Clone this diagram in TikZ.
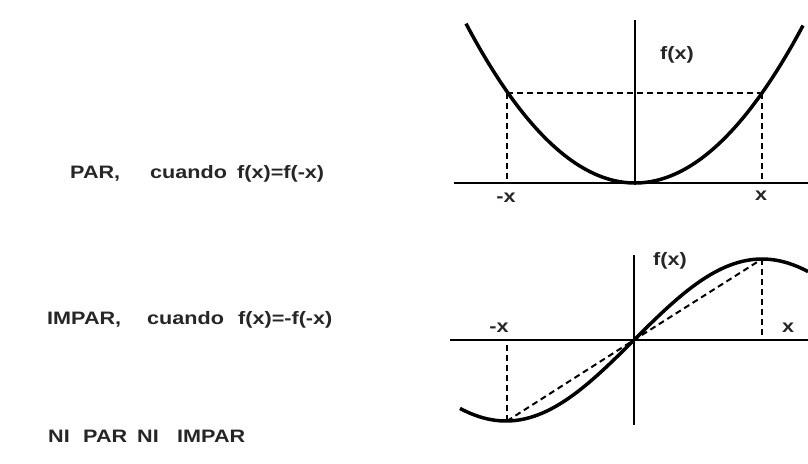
\documentclass[tikz,border=0pt]{standalone}
\usepackage{graphicx}
\usepackage{fontspec}
\setmainfont{Liberation Sans}
\newcommand{\wtxt}[1]{\scalebox{1.2}[1]{#1}}
\begin{document}
\begin{tikzpicture}[x=1pt,y=-1pt,
  lbl/.style={font=\fontsize{18}{21}\selectfont\bfseries, text=black!85, inner sep=0pt},
  curve/.style={line width=3.5pt, black},
  axis/.style={line width=1.6pt, black},
  guide/.style={line width=2pt, black, dash pattern=on 6pt off 4pt}]
\useasboundingbox (0,0) rectangle (808,463);
\fill[white] (0,0) rectangle (808,463);

% left texts
\node[lbl, anchor=base west] (par) at (70,178) {\makebox[80pt][l]{\wtxt{PAR,}}\makebox[87pt][l]{\wtxt{cuando}}\wtxt{f(x)=f(-x)}};
\node[lbl, anchor=base west] (impar) at (47,324) {\makebox[100pt][l]{\wtxt{IMPAR,}}\makebox[91pt][l]{\wtxt{cuando}}\wtxt{f(x)=-f(-x)}};
\node[lbl, anchor=base west] (ni) at (48,442) {\makebox[35pt][l]{\wtxt{NI}}\makebox[54pt][l]{\wtxt{PAR}}\makebox[40pt][l]{\wtxt{NI}}\wtxt{IMPAR}};

% top graph (even)
\coordinate (ax1l) at (454,183);
\coordinate (ax1r) at (808,183);
\coordinate (ay1t) at (635,20);
\coordinate (ay1b) at (635,185);
\coordinate (pL) at (507,93);
\coordinate (pR) at (762,93);
\coordinate (bL) at (507,183);
\coordinate (bR) at (762,183);
\draw[axis] (ax1l) -- (ax1r);
\draw[axis] (ay1t) -- (ay1b);
\draw[curve] plot[domain=-169:168, samples=90, smooth] ({635+\x},{183-55.8*(\x/100)^2});
\draw[guide] (pL) -- (pR);
\draw[guide] (pL) -- (bL);
\draw[guide] (pR) -- (bR);
\node[lbl, anchor=base] (mx1) at (506,202) {\wtxt{-x}};
\node[lbl, anchor=base] (x1) at (761,200) {\wtxt{x}};
\node[lbl, anchor=base west] (f1) at (660,59) {\wtxt{f(x)}};

% bottom graph (odd)
\coordinate (ax2l) at (450,340);
\coordinate (ax2r) at (808,340);
\coordinate (ay2t) at (634,255);
\coordinate (ay2b) at (634,425);
\coordinate (o2) at (634,340);
\coordinate (qL) at (507,421);
\coordinate (qR) at (762,259);
\coordinate (cL) at (507,340);
\coordinate (cR) at (762,340);
\draw[axis] (ax2l) -- (ax2r);
\draw[axis] (ay2t) -- (ay2b);
\draw[curve] plot[domain=-174:174, samples=90, smooth] ({634+\x},{340-81*sin(90*\x/128)});
\draw[guide] (qL) -- (o2) -- (qR);
\draw[guide] (qL) -- (cL);
\draw[guide] (qR) -- (cR);
\node[lbl, anchor=base] (mx2) at (499,332) {\wtxt{-x}};
\node[lbl, anchor=base] (x2) at (788,332) {\wtxt{x}};
\node[lbl, anchor=base west] (f2) at (653,265) {\wtxt{f(x)}};
\end{tikzpicture}
\end{document}
